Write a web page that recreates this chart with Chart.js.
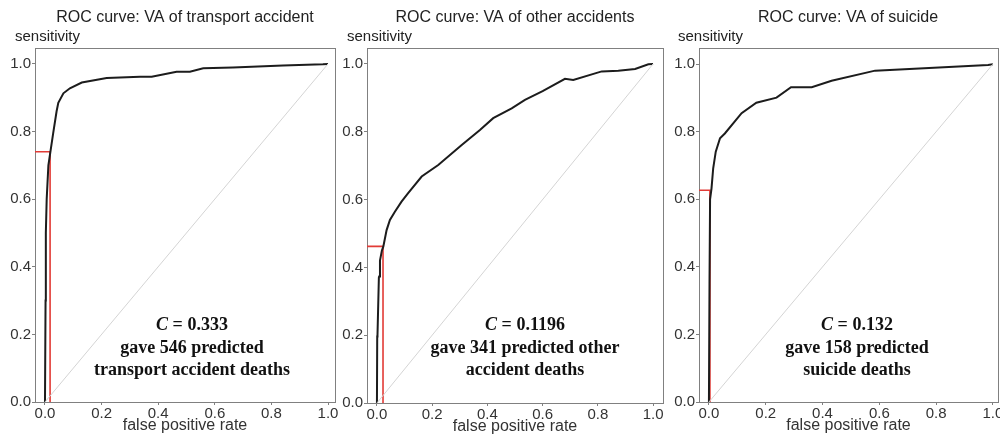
<!DOCTYPE html>
<html>
<head>
<meta charset="utf-8">
<title>ROC curves</title>
<script src="https://cdn.jsdelivr.net/npm/chart.js@4.4.1/dist/chart.umd.min.js"></script>
<style>
  html, body { margin: 0; padding: 0; background: #fff; }
  #wrap { position: relative; width: 1000px; height: 437px; overflow: hidden; }
  .panel { position: absolute; left: 0; top: 0; width: 1000px; height: 437px; }
</style>
</head>
<body>
<div id="wrap">
  <div class="panel"><canvas id="rocTransport"></canvas></div>
  <div class="panel"><canvas id="rocOther"></canvas></div>
  <div class="panel"><canvas id="rocSuicide"></canvas></div>
</div>
<script>
const tickValues = [0, 0.2, 0.4, 0.6, 0.8, 1.0];
const tickLabels = ["0.0", "0.2", "0.4", "0.6", "0.8", "1.0"];

const panelTitles = [
  "ROC curve: VA of transport accident",
  "ROC curve: VA of other accidents",
  "ROC curve: VA of suicide",
];

const transportFpr = [0, 0.002, 0.003, 0.006, 0.012, 0.02, 0.029, 0.041, 0.047, 0.065, 0.088, 0.13, 0.218, 0.336, 0.377, 0.465, 0.512, 0.559, 0.664, 0.841, 0.982, 1.0];
const transportSens = [0, 0.3, 0.5, 0.6, 0.7, 0.745, 0.795, 0.86, 0.885, 0.913, 0.928, 0.945, 0.958, 0.962, 0.962, 0.977, 0.977, 0.987, 0.989, 0.995, 0.999, 1.0];

const otherFpr = [0, 0.001, 0.002, 0.007, 0.008, 0.011, 0.018, 0.023, 0.035, 0.047, 0.065, 0.089, 0.113, 0.162, 0.222, 0.307, 0.373, 0.421, 0.488, 0.536, 0.6, 0.681, 0.711, 0.814, 0.874, 0.935, 0.983, 1.0];
const otherSens = [0, 0.196, 0.2, 0.37, 0.373, 0.42, 0.45, 0.461, 0.51, 0.54, 0.564, 0.594, 0.619, 0.668, 0.702, 0.761, 0.805, 0.84, 0.869, 0.894, 0.92, 0.956, 0.953, 0.978, 0.98, 0.985, 0.999, 1.0];

const suicideFpr = [0, 0.002, 0.004, 0.009, 0.015, 0.024, 0.039, 0.056, 0.115, 0.167, 0.238, 0.289, 0.362, 0.432, 0.585, 0.983, 1.0];
const suicideSens = [0, 0.35, 0.6, 0.632, 0.692, 0.741, 0.781, 0.795, 0.855, 0.886, 0.901, 0.932, 0.932, 0.951, 0.981, 0.998, 1.0];

const cutoffFpr = [0.018, 0.022, 0.0035];
const cutoffSens = [0.74, 0.462, 0.627];
const cutoffC = ["0.333", "0.1196", "0.132"];
const predictedLines = [
  ["gave 546 predicted", "transport accident deaths"],
  ["gave 341 predicted other", "accident deaths"],
  ["gave 158 predicted", "suicide deaths"],
];

const curves = [
  [transportFpr, transportSens],
  [otherFpr, otherSens],
  [suicideFpr, suicideSens],
];

// where each panel sits on the 1000x437 page
const panels = [
  { id: "rocTransport", left: 35, right: 335, bottom: 402, xMin: -0.0353, xMax: 1.0247, yMin: 0, yMax: 1.047, titleX: 185, sensX: 15, noteX: 192 },
  { id: "rocOther", left: 367, right: 663, bottom: 403, xMin: -0.036, xMax: 1.036, yMin: 0, yMax: 1.047, titleX: 515, sensX: 347, noteX: 525 },
  { id: "rocSuicide", left: 699, right: 998, bottom: 402, xMin: -0.035, xMax: 1.018, yMin: 0, yMax: 1.048, titleX: 848, sensX: 678, noteX: 857 },
];

const sansFont = "'Liberation Sans', Arial, sans-serif";
const serifFont = "'Liberation Serif', 'Times New Roman', serif";
const yAxisWidth = 30;
const xAxisHeight = 35;
const plotTop = 48;

const panelText = {
  id: "panelText",
  beforeDatasetsDraw(chart) {
    const { ctx, chartArea } = chart;
    ctx.save();
    ctx.strokeStyle = "#808080";
    ctx.lineWidth = 1;
    ctx.strokeRect(Math.round(chartArea.left) + 0.5, Math.round(chartArea.top) + 0.5,
      Math.round(chartArea.right - chartArea.left), Math.round(chartArea.bottom - chartArea.top));
    ctx.restore();
  },
  afterDraw(chart, args, opts) {
    const ctx = chart.ctx;
    ctx.save();
    ctx.fillStyle = "#222";
    ctx.textBaseline = "middle";

    ctx.font = "16px " + sansFont;
    ctx.textAlign = "center";
    ctx.fillText(opts.title, opts.titleX, 18);

    ctx.font = "15px " + sansFont;
    ctx.textAlign = "left";
    ctx.fillText("sensitivity", opts.sensX, 37);

    // C = ... line, C in italic
    ctx.fillStyle = "#111";
    const italicC = "italic bold 18px " + serifFont;
    const boldRest = "bold 18px " + serifFont;
    const rest = " = " + opts.cValue;
    ctx.font = italicC;
    const wC = ctx.measureText("C").width;
    ctx.font = boldRest;
    const wRest = ctx.measureText(rest).width;
    let x0 = opts.noteX - (wC + wRest) / 2;
    ctx.textAlign = "left";
    ctx.font = italicC;
    ctx.fillText("C", x0, 325);
    ctx.font = boldRest;
    ctx.fillText(rest, x0 + wC, 325);

    ctx.textAlign = "center";
    opts.lines.forEach((line, i) => {
      ctx.fillText(line, opts.noteX, 348 + i * 22);
    });
    ctx.restore();
  },
};

panels.forEach((p, i) => {
  const [fpr, sens] = curves[i];
  const curvePoints = fpr.map((x, k) => ({ x: x, y: sens[k] }));
  const diagonal = [{ x: tickValues[0], y: tickValues[0] }, { x: tickValues[5], y: tickValues[5] }];
  const cutoffPath = [
    { x: p.xMin, y: cutoffSens[i] },
    { x: cutoffFpr[i], y: cutoffSens[i] },
    { x: cutoffFpr[i], y: p.yMin },
  ];

  new Chart(document.getElementById(p.id), {
    type: "scatter",
    data: {
      datasets: [
        { data: diagonal, showLine: true, borderColor: "#d4d4d4", borderWidth: 1, pointRadius: 0 },
        { data: curvePoints, showLine: true, borderColor: "#1c1c1c", borderWidth: 2, pointRadius: 0, tension: 0 },
        { data: cutoffPath, showLine: true, borderColor: "#e23b36", borderWidth: 1.6, pointRadius: 0 },
      ],
    },
    options: {
      responsive: true,
      maintainAspectRatio: false,
      animation: false,
      events: [],
      layout: {
        padding: {
          left: p.left - yAxisWidth,
          right: 1000 - p.right,
          top: plotTop,
          bottom: 437 - p.bottom - xAxisHeight,
        },
      },
      plugins: {
        legend: { display: false },
        title: { display: false },
        tooltip: { enabled: false },
        panelText: {
          title: panelTitles[i],
          titleX: p.titleX,
          sensX: p.sensX,
          noteX: p.noteX,
          cValue: cutoffC[i],
          lines: predictedLines[i],
        },
      },
      scales: {
        x: {
          type: "linear",
          min: p.xMin,
          max: p.xMax,
          afterBuildTicks: (s) => { s.ticks = tickValues.map((v) => ({ value: v })); },
          afterFit: (s) => { s.height = xAxisHeight; s.paddingLeft = 0; s.paddingRight = 0; },
          ticks: {
            color: "#333",
            font: { family: sansFont, size: 15 },
            padding: 0,
            maxRotation: 0,
            callback: (v) => tickLabels[tickValues.indexOf(v)],
          },
          grid: { display: true, drawOnChartArea: false, drawTicks: true, tickLength: 3, color: "#808080" },
          border: { display: false },
          title: {
            display: true,
            text: "false positive rate",
            color: "#333",
            font: { family: sansFont, size: 16 },
            padding: { top: 0, bottom: 2 },
          },
        },
        y: {
          type: "linear",
          min: p.yMin,
          max: p.yMax,
          afterBuildTicks: (s) => { s.ticks = tickValues.map((v) => ({ value: v })); },
          afterFit: (s) => { s.width = yAxisWidth; s.paddingTop = 0; s.paddingBottom = 0; },
          ticks: {
            color: "#333",
            font: { family: sansFont, size: 15 },
            padding: 1,
            callback: (v) => tickLabels[tickValues.indexOf(v)],
          },
          grid: { display: true, drawOnChartArea: false, drawTicks: true, tickLength: 3, color: "#808080" },
          border: { display: false },
        },
      },
    },
    plugins: [panelText],
  });
});
</script>
</body>
</html>
